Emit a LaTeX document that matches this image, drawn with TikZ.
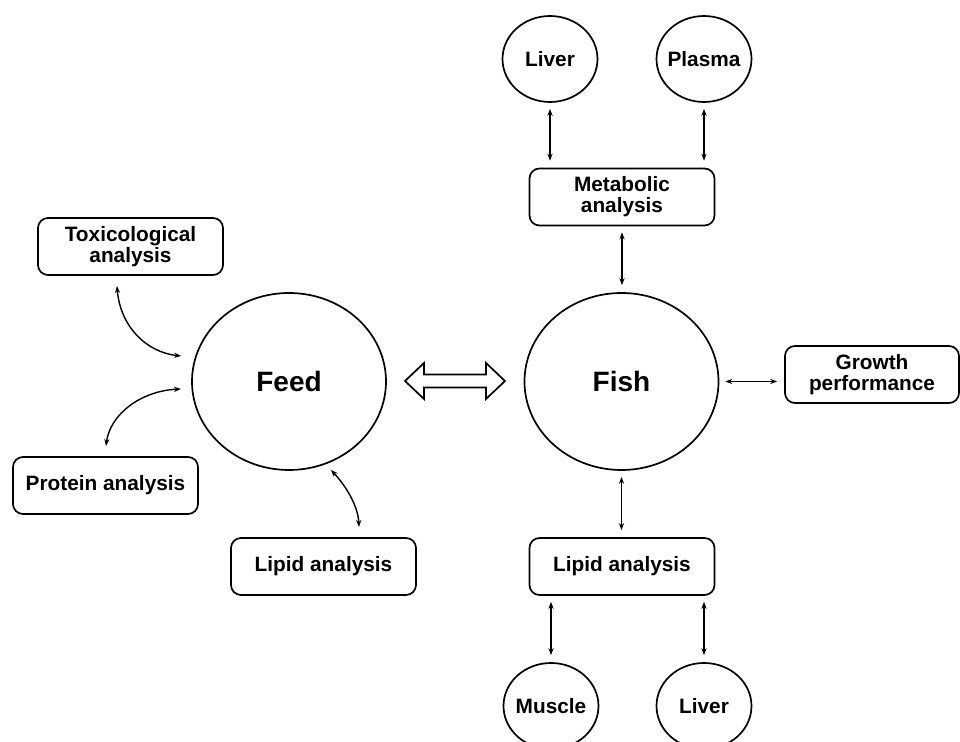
\documentclass[tikz,border=0pt]{standalone}
\usepackage{fontspec}
\setmainfont{Liberation Sans}
\usetikzlibrary{arrows.meta,shapes.geometric,calc}
\begin{document}
\begin{tikzpicture}[x=0.5pt,y=-0.5pt,
  box/.style={draw, line width=0.85pt, rounded corners=5pt, minimum width=92.5pt,
    minimum height=28.5pt, inner sep=0pt, align=center,
    font=\bfseries\fontsize{10.4}{10.6}\selectfont},
  bigell/.style={draw, ellipse, line width=0.85pt, inner sep=0pt,
    minimum width=97pt, minimum height=88.5pt, font=\bfseries\fontsize{14}{16}\selectfont},
  smallell/.style={draw, ellipse, line width=0.85pt, inner xsep=-12pt, inner ysep=0pt,
    minimum width=47.5pt, minimum height=43pt, font=\bfseries\fontsize{10.4}{12}\selectfont},
  tipd/.style={line width=0.7pt, {Stealth[length=3.5pt,width=2.6pt]}-{Stealth[length=3.5pt,width=2.6pt]}},
  conn/.style={tipd, shorten <=3pt, shorten >=3.5pt}
]
\useasboundingbox (0,0) rectangle (960,742);

% main ellipses
\node[bigell] (feed) at (289,381.5) {Feed};
\node[bigell] (fish) at (621.5,381.5) {Fish};

% small circles
\node[smallell] (liv1) at (550,59) {Liver};
\node[smallell] (plas) at (704,59) {Plasma};
\node[smallell] (mus) at (551,706) {Muscle};
\node[smallell] (liv2) at (704,706) {Liver};

% boxes
\node[box] (met) at (622,197) {Metabolic\\analysis};
\node[box] (lipR) at (622,566.5) {Lipid analysis};
\node[box] (tox) at (130.5,246.5) {Toxicological\\analysis};
\node[box] (prot) at (105.5,485.5) {Protein analysis};
\node[box] (lipL) at (323.5,566.5) {Lipid analysis};
\node[box, minimum width=87pt] (grow) at (872,374.5) {Growth\\performance};

% straight connectors
\draw[conn] (liv1.south) -- (liv1.south |- met.north);
\draw[conn] (plas.south) -- (plas.south |- met.north);
\draw[conn] (met.south) -- (met.south |- fish.north);
\draw[conn] (fish.south) -- (fish.south |- lipR.north);
\draw[conn] (mus.north |- lipR.south) -- (mus.north);
\draw[conn] (liv2.north |- lipR.south) -- (liv2.north);
\draw[conn] (fish.east) -- (fish.east -| grow.west);

% hollow double arrow between feed and fish
\draw[line width=0.85pt, line join=miter] (405,381) -- (424,363) -- (424,374.5) -- (486,374.5)
  -- (486,363) -- (505,381) -- (486,399) -- (486,387.5) -- (424,387.5) -- (424,399) -- cycle;

% curved connectors on feed side
\coordinate (tx) at (117,286);
\coordinate (tf) at (181,356);
\draw[tipd] (tx) .. controls (120,325) and (145,352) .. (tf);
\coordinate (pf) at (181,389);
\coordinate (px) at (106,446);
\draw[tipd] (pf) .. controls (140,391) and (110,415) .. (px);
\coordinate (lf) at (331,470);
\coordinate (lx) at (359,527);
\draw[tipd] (lf) .. controls (345,485) and (358,505) .. (lx);
\end{tikzpicture}
\end{document}
